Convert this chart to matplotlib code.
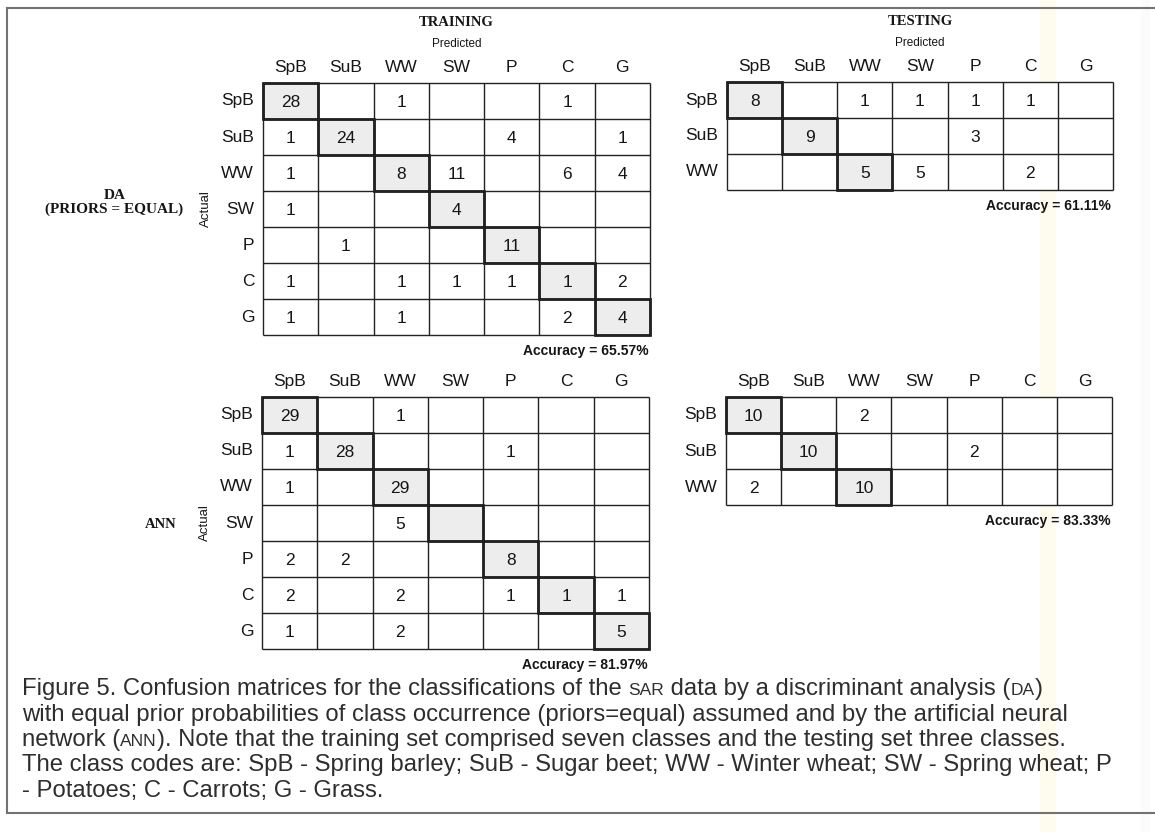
import re
import numpy as np
import matplotlib
matplotlib.use('Agg')
import matplotlib.pyplot as plt
from matplotlib.patches import Rectangle
from matplotlib.colors import ListedColormap

W, H = 1155, 832

classes = ['SpB', 'SuB', 'WW', 'SW', 'P', 'C', 'G']
test_rows = ['SpB', 'SuB', 'WW']

# 0 means the cell is left empty
da_train = [[28, 0, 1, 0, 0, 1, 0],
            [1, 24, 0, 0, 4, 0, 1],
            [1, 0, 8, 11, 0, 6, 4],
            [1, 0, 0, 4, 0, 0, 0],
            [0, 1, 0, 0, 11, 0, 0],
            [1, 0, 1, 1, 1, 1, 2],
            [1, 0, 1, 0, 0, 2, 4]]
da_test = [[8, 0, 1, 1, 1, 1, 0],
           [0, 9, 0, 0, 3, 0, 0],
           [0, 0, 5, 5, 0, 2, 0]]
ann_train = [[29, 0, 1, 0, 0, 0, 0],
             [1, 28, 0, 0, 1, 0, 0],
             [1, 0, 29, 0, 0, 0, 0],
             [0, 0, 5, 0, 0, 0, 0],
             [2, 2, 0, 0, 8, 0, 0],
             [2, 0, 2, 0, 1, 1, 1],
             [1, 0, 2, 0, 0, 0, 5]]
ann_test = [[10, 0, 2, 0, 0, 0, 0],
            [0, 10, 0, 0, 2, 0, 0],
            [2, 0, 10, 0, 0, 0, 0]]

da_train_acc = 65.57
da_test_acc = 61.11
ann_train_acc = 81.97
ann_test_acc = 83.33

caption = [
    "Figure 5. Confusion matrices for the classifications of the {SAR} data by a discriminant analysis ({DA})",
    "with equal prior probabilities of class occurrence (priors=equal) assumed and by the artificial neural",
    "network ({ANN}). Note that the training set comprised seven classes and the testing set three classes.",
    "The class codes are: SpB - Spring barley; SuB - Sugar beet; WW - Winter wheat; SW - Spring wheat; P",
    "- Potatoes; C - Carrots; G - Grass.",
]

SANS = 'Liberation Sans'
SERIF = 'Liberation Serif'
INK = '#161616'

fig = plt.figure(figsize=(W / 100, H / 100), dpi=100)
fig.patch.set_facecolor('white')

# background layer in pixel coordinates: page frame and faint scan bands
bg = fig.add_axes([0, 0, 1, 1])
bg.set_xlim(0, W)
bg.set_ylim(H, 0)
bg.axis('off')
bg.axvspan(1040, 1056, color='#fdfcee', lw=0)
bg.axvspan(1141, 1150, color='#fbfbfb', lw=0)
bg.plot([W, 7, 7, W], [8, 8, 813, 813], color='#727272', lw=1.5, solid_joinstyle='miter')


def add_grid_axes(left, top, width, height):
    return fig.add_axes([left / W, 1 - (top + height) / H, width / W, height / H])


def draw_matrix(ax, mat, rows, acc):
    mat = np.array(mat)
    n, m = mat.shape
    ax.set_xlim(0, m)
    ax.set_ylim(n, 0)
    ax.axis('off')

    shade = np.zeros((n, m))
    for i in range(n):
        shade[i, i] = 1
    ax.pcolormesh(np.arange(m + 1), np.arange(n + 1), shade,
                  cmap=ListedColormap(['white', '#ededed']), vmin=0, vmax=1)
    ax.hlines(np.arange(n + 1), 0, m, color='#222222', lw=1.0, clip_on=False)
    ax.vlines(np.arange(m + 1), 0, n, color='#222222', lw=1.0, clip_on=False)
    for i in range(n):
        ax.add_patch(Rectangle((i, i), 1, 1, fill=False, ec='#0a0a0a', lw=1.9,
                               clip_on=False, joinstyle='miter'))

    for i in range(n):
        for j in range(m):
            if mat[i, j] > 0:
                ax.text(j + 0.5, i + 0.53, str(mat[i, j]), ha='center', va='center',
                        fontsize=12.5, family=SANS, color=INK)

    for j, c in enumerate(classes):
        ax.text(j + 0.5, -0.42, c, ha='center', va='center', fontsize=12.5,
                family=SANS, color=INK)
    for i, r in enumerate(rows):
        ax.text(-0.16, i + 0.5, r, ha='right', va='center', fontsize=12.5,
                family=SANS, color=INK)

    ax.text(m - 0.03, n + 0.45, f'Accuracy = {acc:.2f}%', ha='right', va='center',
            fontsize=10, fontweight='bold', family=SANS, color=INK)


ax1 = add_grid_axes(263, 83, 387, 252)
ax2 = add_grid_axes(727, 82, 386, 108)
ax3 = add_grid_axes(262, 397, 387, 252)
ax4 = add_grid_axes(726, 397, 386, 108)

draw_matrix(ax1, da_train, classes, da_train_acc)
draw_matrix(ax2, da_test, test_rows, da_test_acc)
draw_matrix(ax3, ann_train, classes, ann_train_acc)
draw_matrix(ax4, ann_test, test_rows, ann_test_acc)

for ax, title in [(ax1, 'TRAINING'), (ax2, 'TESTING')]:
    ax.text(3.5, -1.68, title, ha='center', va='center', fontsize=10.5,
            fontweight='bold', family=SERIF, color=INK)
    ax.text(3.5, -1.08, 'Predicted', ha='center', va='center', fontsize=8.5,
            family=SANS, color=INK)

for ax in (ax1, ax3):
    ax.text(-1.03, 3.5, 'Actual', ha='center', va='center', rotation=90,
            fontsize=9.5, family=SANS, color=INK)

ax1.text(-2.69, 3.32, 'DA\n(PRIORS = EQUAL)', ha='center', va='center',
         fontsize=11, fontweight='bold', family=SERIF, color=INK, linespacing=1.05)
ax3.text(-1.83, 3.55, 'ANN', ha='center', va='center', fontsize=10.5,
         fontweight='bold', family=SERIF, color=INK)

# caption with small capitals for the {..} parts
renderer = fig.canvas.get_renderer()


def text_width(s, fs):
    t = fig.text(0, 0, s + '|', fontsize=fs, family=SANS)
    bar = fig.text(0, 0, '|', fontsize=fs, family=SANS)
    w = t.get_window_extent(renderer).width - bar.get_window_extent(renderer).width
    t.remove()
    bar.remove()
    return w


cap_fs = 17.2
sc_fs = 12.5
y = 695
for line in caption:
    x = 22
    for part in re.split(r'(\{[^}]*\})', line):
        if not part:
            continue
        fs = cap_fs
        if part.startswith('{'):
            part = part[1:-1]
            fs = sc_fs
        fig.text(x / W, 1 - y / H, part, fontsize=fs, family=SANS, color='#2e2e2e',
                 ha='left', va='baseline')
        x += text_width(part, fs)
    y += 25.5

fig.savefig('out.png', dpi=100, facecolor='white')
